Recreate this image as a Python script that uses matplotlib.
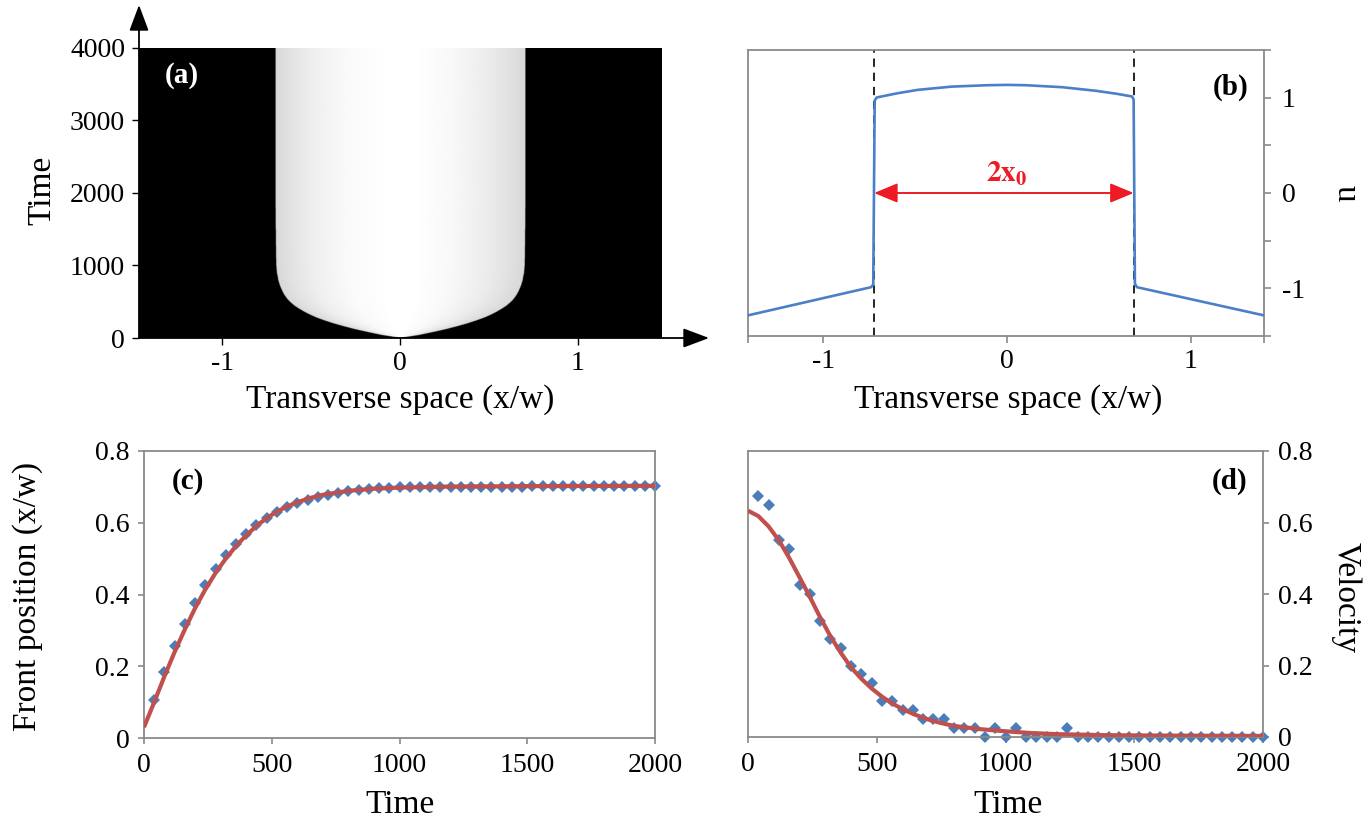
import numpy as np
import matplotlib
matplotlib.use('Agg')
import matplotlib.pyplot as plt

plt.rcParams['font.family'] = ['Liberation Serif', 'DejaVu Serif']
plt.rcParams['mathtext.fontset'] = 'stix'

# ---------------- data ----------------
# (b) transverse profile u(x) at late time
b_x = [-1.411, -0.740, -0.728, -0.720, -0.709, -0.600, -0.485, -0.300, -0.100, 0.000,
       0.100, 0.300, 0.485, 0.600, 0.682, 0.690, 0.697, 0.708, 1.400]
b_u = [-1.284, -0.988, -0.960, 0.970, 1.002, 1.045, 1.082, 1.116, 1.131, 1.134,
       1.131, 1.110, 1.072, 1.040, 1.012, 0.980, -0.950, -0.988, -1.284]
b_front_left = -0.723
b_front_right = 0.690

# (c)/(d) sampled times
t_samples = [40, 80, 120, 160, 200, 240, 280, 320, 360, 400,
             440, 480, 520, 560, 600, 640, 680, 720, 760, 800,
             840, 880, 920, 960, 1000, 1040, 1080, 1120, 1160, 1200,
             1240, 1280, 1320, 1360, 1400, 1440, 1480, 1520, 1560, 1600,
             1640, 1680, 1720, 1760, 1800, 1840, 1880, 1920, 1960, 2000]

# (c) front position (diamonds)
front_pos = [0.106, 0.183, 0.256, 0.319, 0.377, 0.427, 0.472, 0.509, 0.541, 0.569,
             0.594, 0.614, 0.631, 0.644, 0.655, 0.664, 0.671, 0.678, 0.683, 0.688,
             0.690, 0.694, 0.696, 0.697, 0.699, 0.699, 0.699, 0.700, 0.700, 0.700,
             0.700, 0.701, 0.701, 0.701, 0.701, 0.701, 0.701, 0.702, 0.702, 0.702,
             0.702, 0.702, 0.702, 0.702, 0.703, 0.703, 0.703, 0.703, 0.703, 0.703]

# (c) fitted curve
fit_pos_t = [0, 40, 80, 120, 160, 200, 240, 280, 320, 360, 400, 450, 500, 550, 600,
             650, 700, 800, 900, 1000, 1200, 1500, 2000]
fit_pos = [0.030, 0.100, 0.172, 0.240, 0.303, 0.362, 0.414, 0.460, 0.500, 0.535, 0.565,
           0.597, 0.622, 0.642, 0.657, 0.669, 0.678, 0.689, 0.695, 0.698, 0.701, 0.702, 0.703]

# (d) velocity (diamonds)
velocity = [0.675, 0.650, 0.550, 0.525, 0.425, 0.400, 0.325, 0.275, 0.250, 0.200,
            0.175, 0.150, 0.100, 0.100, 0.075, 0.075, 0.050, 0.050, 0.050, 0.025,
            0.025, 0.025, 0.000, 0.025, 0.000, 0.025, 0.000, 0.000, 0.000, 0.000,
            0.025, 0.000, 0.000, 0.000, 0.000, 0.000, 0.000, 0.000, 0.000, 0.000,
            0.000, 0.000, 0.000, 0.000, 0.000, 0.000, 0.000, 0.000, 0.000, 0.000]

# (d) fitted curve
fit_vel_t = [0, 40, 80, 120, 160, 200, 240, 280, 320, 360, 400, 440, 480, 520, 560,
             600, 650, 700, 750, 800, 900, 1000, 1100, 1200, 1400, 1600, 2000]
fit_vel = [0.633, 0.618, 0.589, 0.550, 0.501, 0.447, 0.392, 0.335, 0.282, 0.236, 0.195,
           0.163, 0.136, 0.113, 0.094, 0.078, 0.062, 0.049, 0.039, 0.031, 0.022, 0.016,
           0.011, 0.008, 0.005, 0.004, 0.003]

# (a) front at t = 0
a_front_t0 = 0.0

# ---------------- figure ----------------
W, H = 1372, 825
fig = plt.figure(figsize=(W / 100, H / 100), dpi=100)


def box(l, t, r, b):
    return [l / W, 1 - b / H, (r - l) / W, (b - t) / H]


def ftext(x, y, s, **kw):
    fig.text(x / W, 1 - y / H, s, ha='center', va='center', **kw)


GRAY = '#8a8a8a'
BLUE = '#4a7ebb'
LBLUE = '#4a80c8'
RED = '#c0504d'
ARED = '#ed1c24'
TICK_FS = 20
LAB_FS = 24
PAN_FS = 21

# ----- (a) -----
axa = fig.add_axes(box(139, 48, 661, 338))
xs = np.linspace(-1.47, 1.47, 1200)
ts = np.linspace(0, 4000, 900)
F = np.interp(ts, [0] + t_samples, [a_front_t0] + front_pos)
X, FF = np.meshgrid(xs, F)
bx = np.array(b_x)
bu = np.array(b_u)
arc = bu > 0.99
arc_x, arc_u = bx[arc], bu[arc]
safeF = np.where(FF > 1e-6, FF, 1e-6)
s = X / safeF * 0.70
vmin, vmax = 0.30, 1.134
inside = np.clip((np.interp(s, arc_x, arc_u) - vmin) / (vmax - vmin), 0, 1)
dx = xs[1] - xs[0]
cover = np.clip((FF - np.abs(X)) / (1.5 * dx) + 0.5, 0, 1)
G = cover * inside
axa.imshow(G, cmap='gray', vmin=0, vmax=1, extent=[-1.47, 1.47, 0, 4000],
           origin='lower', aspect='auto', interpolation='bilinear')
axa.set_xlim(-1.47, 1.47)
axa.set_ylim(0, 4000)
for sp in axa.spines.values():
    sp.set_visible(False)
axa.set_xticks([-1, 0, 1])
axa.set_xticklabels(['-1', '0', '1'])
axa.set_yticks([0, 1000, 2000, 3000, 4000])
axa.set_yticklabels(['0', '1000', '2000', '3000', '4000'])
axa.tick_params(axis='both', direction='out', length=5, width=1, color='k',
                labelsize=TICK_FS)
axa.tick_params(axis='x', pad=4.5)
axa.tick_params(axis='y', pad=5)
arrow_kw = dict(arrowstyle='-|>,head_length=0.8,head_width=0.3', color='k', lw=1.3,
                shrinkA=0, shrinkB=0, mutation_scale=20)
axa.annotate('', xy=(0, (338 - 5) / 290), xytext=(0, 0), xycoords='axes fraction',
             textcoords='axes fraction', arrowprops=arrow_kw, annotation_clip=False)
axa.annotate('', xy=((709 - 139) / 522, 0), xytext=(0, 0), xycoords='axes fraction',
             textcoords='axes fraction', arrowprops=arrow_kw, annotation_clip=False)
axa.text(0.082, 0.905, '(a)', transform=axa.transAxes, color='white', fontsize=PAN_FS,
         fontweight='bold', ha='center', va='center')

# ----- (b) -----
axb = fig.add_axes(box(748, 50, 1264, 336))
axb.plot(b_x, b_u, color=LBLUE, lw=1.9, zorder=3)
axb.axvline(b_front_left, color='k', lw=1.2, ls=(0, (5, 3.5)), zorder=2)
axb.axvline(b_front_right, color='k', lw=1.2, ls=(0, (5, 3.5)), zorder=2)
axb.annotate('', xy=(b_front_right, 0), xytext=(b_front_left, 0),
             arrowprops=dict(arrowstyle='<|-|>,head_length=0.72,head_width=0.3',
                             color=ARED, lw=1.4, shrinkA=0, shrinkB=0, mutation_scale=20),
             zorder=4)
axb.text(0.0, 0.12, r'$\mathbf{2x_0}$', color=ARED, fontsize=21, ha='center',
         va='baseline')
axb.set_xlim(-1.41, 1.40)
axb.set_ylim(-1.5, 1.5)
axb.yaxis.tick_right()
axb.set_yticks([-1.5, -1, -0.5, 0, 0.5, 1, 1.5])
axb.set_yticklabels(['', '-1', '', '0', '', '1', ''])
axb.set_xticks([-1.41, -1, 0, 1, 1.40])
axb.set_xticklabels(['', '-1', '0', '1', ''])
for sp in axb.spines.values():
    sp.set_color(GRAY)
    sp.set_linewidth(1.3)
axb.tick_params(axis='both', direction='out', length=5, width=1.2, color=GRAY,
                labelsize=TICK_FS, labelcolor='k')
axb.tick_params(axis='x', pad=4.5)
axb.tick_params(axis='y', pad=8)
axb.text(0.935, 0.87, '(b)', transform=axb.transAxes, color='k', fontsize=PAN_FS,
         fontweight='bold', ha='center', va='center')

# ----- (c) -----
axc = fig.add_axes(box(144, 451, 655, 738))
axc.plot(t_samples, front_pos, ls='none', marker='D', ms=6.5, color=BLUE,
         markeredgewidth=0, zorder=2, clip_on=False)
axc.plot(fit_pos_t, fit_pos, color=RED, lw=3.0, zorder=3, solid_capstyle='butt')
axc.set_xlim(0, 2000)
axc.set_ylim(0, 0.8)
axc.set_xticks([0, 500, 1000, 1500, 2000])
axc.set_xticklabels(['0', '500', '1000', '1500', '2000'])
axc.set_yticks([0, 0.2, 0.4, 0.6, 0.8])
axc.set_yticklabels(['0', '0.2', '0.4', '0.6', '0.8'])
for sp in axc.spines.values():
    sp.set_color(GRAY)
    sp.set_linewidth(1.3)
axc.tick_params(axis='both', direction='out', length=4, width=1.2, color=GRAY,
                labelsize=TICK_FS, labelcolor='k')
axc.tick_params(axis='x', pad=6.5)
axc.tick_params(axis='y', pad=6.5)
axc.text(0.086, 0.895, '(c)', transform=axc.transAxes, color='k', fontsize=PAN_FS,
         fontweight='bold', ha='center', va='center')

# ----- (d) -----
axd = fig.add_axes(box(748, 451, 1263, 737))
axd.plot(t_samples, velocity, ls='none', marker='D', ms=6.5, color=BLUE,
         markeredgewidth=0, zorder=2, clip_on=False)
axd.plot(fit_vel_t, fit_vel, color=RED, lw=3.0, zorder=3, solid_capstyle='butt')
axd.set_xlim(0, 2000)
axd.set_ylim(0, 0.8)
axd.yaxis.tick_right()
axd.set_xticks([0, 500, 1000, 1500, 2000])
axd.set_xticklabels(['0', '500', '1000', '1500', '2000'])
axd.set_yticks([0, 0.2, 0.4, 0.6, 0.8])
axd.set_yticklabels(['0', '0.2', '0.4', '0.6', '0.8'])
for sp in axd.spines.values():
    sp.set_color(GRAY)
    sp.set_linewidth(1.3)
axd.tick_params(axis='both', direction='out', length=4, width=1.2, color=GRAY,
                labelsize=TICK_FS, labelcolor='k')
axd.tick_params(axis='x', pad=6.5)
axd.tick_params(axis='y', pad=7)
axd.text(0.935, 0.895, '(d)', transform=axd.transAxes, color='k', fontsize=PAN_FS,
         fontweight='bold', ha='center', va='center')

# ----- axis labels -----
ftext(42, 190, 'Time', fontsize=LAB_FS, rotation=90)
ftext(400, 400, 'Transverse space (x/w)', fontsize=LAB_FS)
ftext(1008, 400, 'Transverse space (x/w)', fontsize=LAB_FS)
ftext(1346, 193, 'u', fontsize=LAB_FS, rotation=270)
ftext(28, 596, 'Front position (x/w)', fontsize=LAB_FS, rotation=90)
ftext(400, 805, 'Time', fontsize=LAB_FS)
ftext(1008, 805, 'Time', fontsize=LAB_FS)
ftext(1346, 598, 'Velocity', fontsize=LAB_FS, rotation=270)

fig.savefig('out.png', dpi=100)
